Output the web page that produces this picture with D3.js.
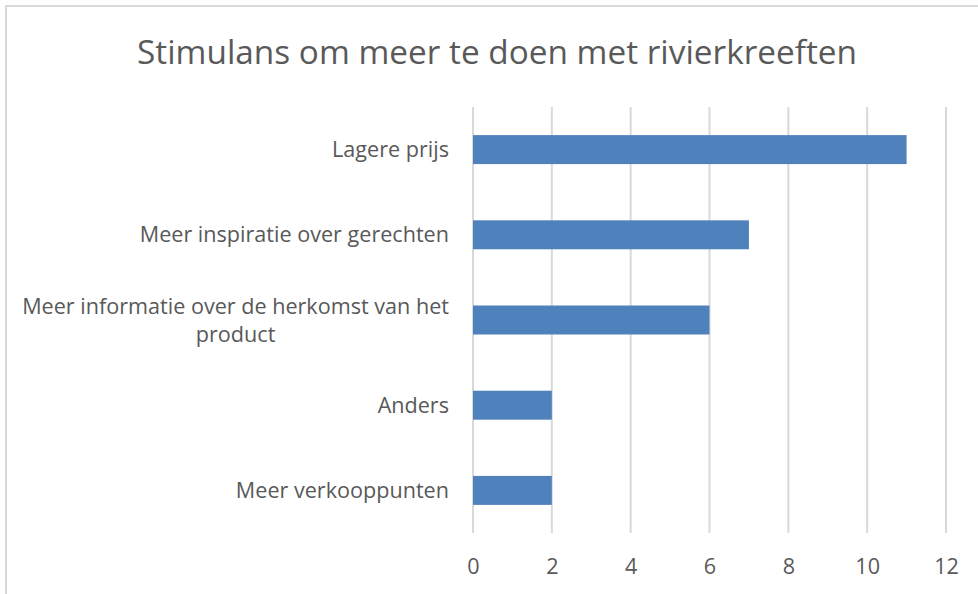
<!DOCTYPE html>
<html>
<head>
<meta charset="utf-8">
<script src="https://cdn.jsdelivr.net/npm/d3@7"></script>
<style>
  body { margin: 0; background: #fff; }
  text { font-family: "Open Sans", "Liberation Sans", sans-serif; fill: #595959; }
</style>
</head>
<body>
<div id="chart"></div>
<script>
// data
const title = "Stimulans om meer te doen met rivierkreeften";
const categories = ["Lagere prijs", "Meer inspiratie over gerechten", "Meer informatie over de herkomst van het product", "Anders", "Meer verkooppunten"];
const values = [11, 7, 6, 2, 2];
const xTicks = [0, 2, 4, 6, 8, 10, 12];

const W = 978, H = 594;
const margin = {top: 107, right: 32, bottom: 61, left: 473};
const width = W - margin.left - margin.right,
      height = H - margin.top - margin.bottom;
const labelSize = "21.6px";

const svg = d3.select("#chart").append("svg")
    .attr("width", W)
    .attr("height", H);

// chart frame
svg.append("rect")
    .attr("x", 6).attr("y", 6)
    .attr("width", W + 10).attr("height", H + 10)
    .attr("fill", "none")
    .attr("stroke", "#d9d9d9")
    .attr("stroke-width", 2);

const tt = svg.append("text")
    .attr("x", 497).attr("y", 64)
    .attr("text-anchor", "middle")
    .style("font-size", "32px")
    .text(title);
// keep the title the same width as in the picture
tt.attr("textLength", 720).attr("lengthAdjust", "spacingAndGlyphs");

const g = svg.append("g")
    .attr("transform", "translate(" + margin.left + "," + margin.top + ")");

const x = d3.scaleLinear().domain([0, 12]).range([0, width]);
const y = d3.scaleBand().domain(categories).range([0, height])
    .paddingInner(0.66).paddingOuter(0.33);

// gridlines
g.append("g")
  .selectAll("line")
  .data(xTicks)
  .enter().append("line")
    .attr("x1", d => x(d)).attr("x2", d => x(d))
    .attr("y1", 0).attr("y2", height)
    .attr("stroke", "#d9d9d9")
    .attr("stroke-width", 2);

// x axis labels
const xAxis = g.append("g")
    .attr("transform", "translate(0," + height + ")")
    .call(d3.axisBottom(x).tickValues(xTicks).tickSize(0).tickPadding(26));
xAxis.select(".domain").remove();
xAxis.selectAll("text").style("font-size", labelSize).attr("fill", "#595959");

// bars
g.append("g")
  .selectAll("rect")
  .data(values)
  .enter().append("rect")
    .attr("x", 0)
    .attr("y", (d, i) => y(categories[i]))
    .attr("width", d => x(d))
    .attr("height", y.bandwidth())
    .attr("fill", "#4f81bd");

// category labels, wrapped at a max width
const maxW = 445;
const labels = g.append("g");
categories.forEach(function(c) {
  const cy = y(c) + y.bandwidth() / 2;
  const t = labels.append("text").style("font-size", labelSize);
  const words = c.split(" ");
  let lines = [], line = [];
  const probe = labels.append("text").style("font-size", labelSize);
  words.forEach(function(w) {
    line.push(w);
    probe.text(line.join(" "));
    if (probe.node().getComputedTextLength() > maxW && line.length > 1) {
      line.pop();
      lines.push(line.join(" "));
      line = [w];
    }
  });
  lines.push(line.join(" "));
  probe.remove();
  const lh = 28;
  if (lines.length === 1) {
    t.attr("text-anchor", "end").attr("x", -24).attr("y", cy).attr("dy", "0.35em").text(lines[0]);
  } else {
    // measure the widest line, center lines within that block
    const tmp = labels.append("text").style("font-size", labelSize).text(lines[0]);
    const bw = tmp.node().getComputedTextLength();
    tmp.remove();
    const cx = -24 - bw / 2;
    lines.forEach(function(l, k) {
      t.append("tspan")
        .attr("x", cx)
        .attr("y", cy + (k - (lines.length - 1) / 2) * lh)
        .attr("dy", "0.35em")
        .attr("text-anchor", "middle")
        .text(l);
    });
  }
});
</script>
</body>
</html>
